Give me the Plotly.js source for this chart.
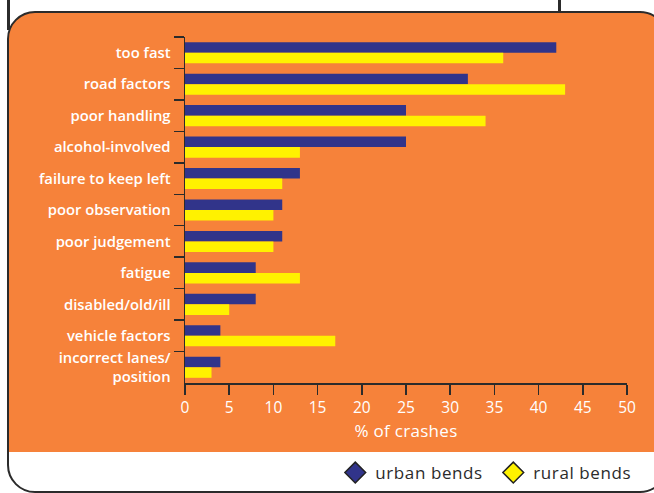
<!DOCTYPE html>
<html>
<head>
<meta charset="utf-8">
<script src="https://cdn.plot.ly/plotly-3.0.1.min.js"></script>
<style>
  html, body { margin:0; padding:0; background:#fff; overflow:hidden; }
  #wrap { position:relative; width:654px; height:493px; overflow:hidden; background:#fff; }
  #box { position:absolute; left:7px; top:11px; width:657px; height:478px;
         border:2.5px solid #2b2b2b; border-radius:28px;
         background:linear-gradient(to bottom, #F6823A 0px, #F6823A 439px, #ffffff 439px); }
  .vl { position:absolute; width:2.5px; background:#2b2b2b; }
  #chart { position:absolute; left:0; top:0; width:654px; height:493px; }
  #chart .legendtext { letter-spacing:0.6px; }
  #chart .xtitle { letter-spacing:0.3px; }
</style>
</head>
<body>
<div id="wrap">
  <div class="vl" style="left:7px; top:0; height:30px;"></div>
  <div class="vl" style="left:558px; top:0; height:13px;"></div>
  <div id="box"></div>
  <div id="chart"></div>
</div>
<script>
const categories = ["too fast", "road factors", "poor handling", "alcohol-involved",
  "failure to keep left", "poor observation", "poor judgement", "fatigue",
  "disabled/old/ill", "vehicle factors", "incorrect lanes/<br>position"];
const urbanBends = [42, 32, 25, 25, 13, 11, 11, 8, 8, 4, 4];
const ruralBends = [36, 43, 34, 13, 11, 10, 10, 13, 5, 17, 3];
const xTicks = [0, 5, 10, 15, 20, 25, 30, 35, 40, 45, 50];

const navy = "#31348A", yellow = "#FFF200";
const fontFam = "'Open Sans', Lato, sans-serif";

const traces = [
  { type:"bar", orientation:"h", name:"urban bends", y:categories, x:urbanBends,
    marker:{color:navy}, showlegend:false, hoverinfo:"x" },
  { type:"bar", orientation:"h", name:"rural bends", y:categories, x:ruralBends,
    marker:{color:yellow}, showlegend:false, hoverinfo:"x" },
  { type:"scatter", mode:"markers", name:"urban bends", x:[null], y:[null],
    marker:{symbol:"diamond", color:navy, size:16, line:{color:"#222", width:1.5}} },
  { type:"scatter", mode:"markers", name:"rural bends", x:[null], y:[null],
    marker:{symbol:"diamond", color:yellow, size:16, line:{color:"#222", width:1.5}} }
];

const layout = {
  width:654, height:493,
  margin:{l:185, r:27, t:37, b:110, autoexpand:false},
  paper_bgcolor:"rgba(0,0,0,0)", plot_bgcolor:"rgba(0,0,0,0)",
  barmode:"group", bargap:0.33, bargroupgap:0,
  font:{family:fontFam, color:"#fff"},
  xaxis:{ range:[0,50], tickvals:xTicks, ticktext:xTicks.map(String),
    showgrid:false, zeroline:false, showline:true, linecolor:"#2b2b2b", linewidth:1.5,
    ticks:"outside", ticklen:10, tickwidth:1.5, tickcolor:"#2b2b2b",
    tickfont:{size:15.5, color:"#fff", family:fontFam},
    ticklabelstandoff:0,
    title:{text:"% of crashes", font:{size:17, color:"#fff", family:fontFam}, standoff:8},
    automargin:false,
    fixedrange:true },
  yaxis:{ type:"category", autorange:"reversed", tickson:"boundaries",
    showgrid:false, zeroline:false, showline:true, linecolor:"#2b2b2b", linewidth:1.5,
    ticks:"outside", ticklen:10, tickwidth:1.5, tickcolor:"#2b2b2b",
    tickfont:{size:14.8, color:"#fff", family:fontFam, weight:600},
    ticklabelstandoff:10, automargin:false,
    fixedrange:true },
  showlegend:true,
  legend:{ orientation:"h", x:0.34, xanchor:"left", y:-0.26, yanchor:"middle",
    entrywidth:113, entrywidthmode:"pixels",
    font:{size:17, color:"#2b2b2b", family:fontFam},
    bgcolor:"rgba(0,0,0,0)", itemclick:false, itemdoubleclick:false }
};

Plotly.newPlot("chart", traces, layout, {displayModeBar:false, staticPlot:true});
</script>
</body>
</html>
